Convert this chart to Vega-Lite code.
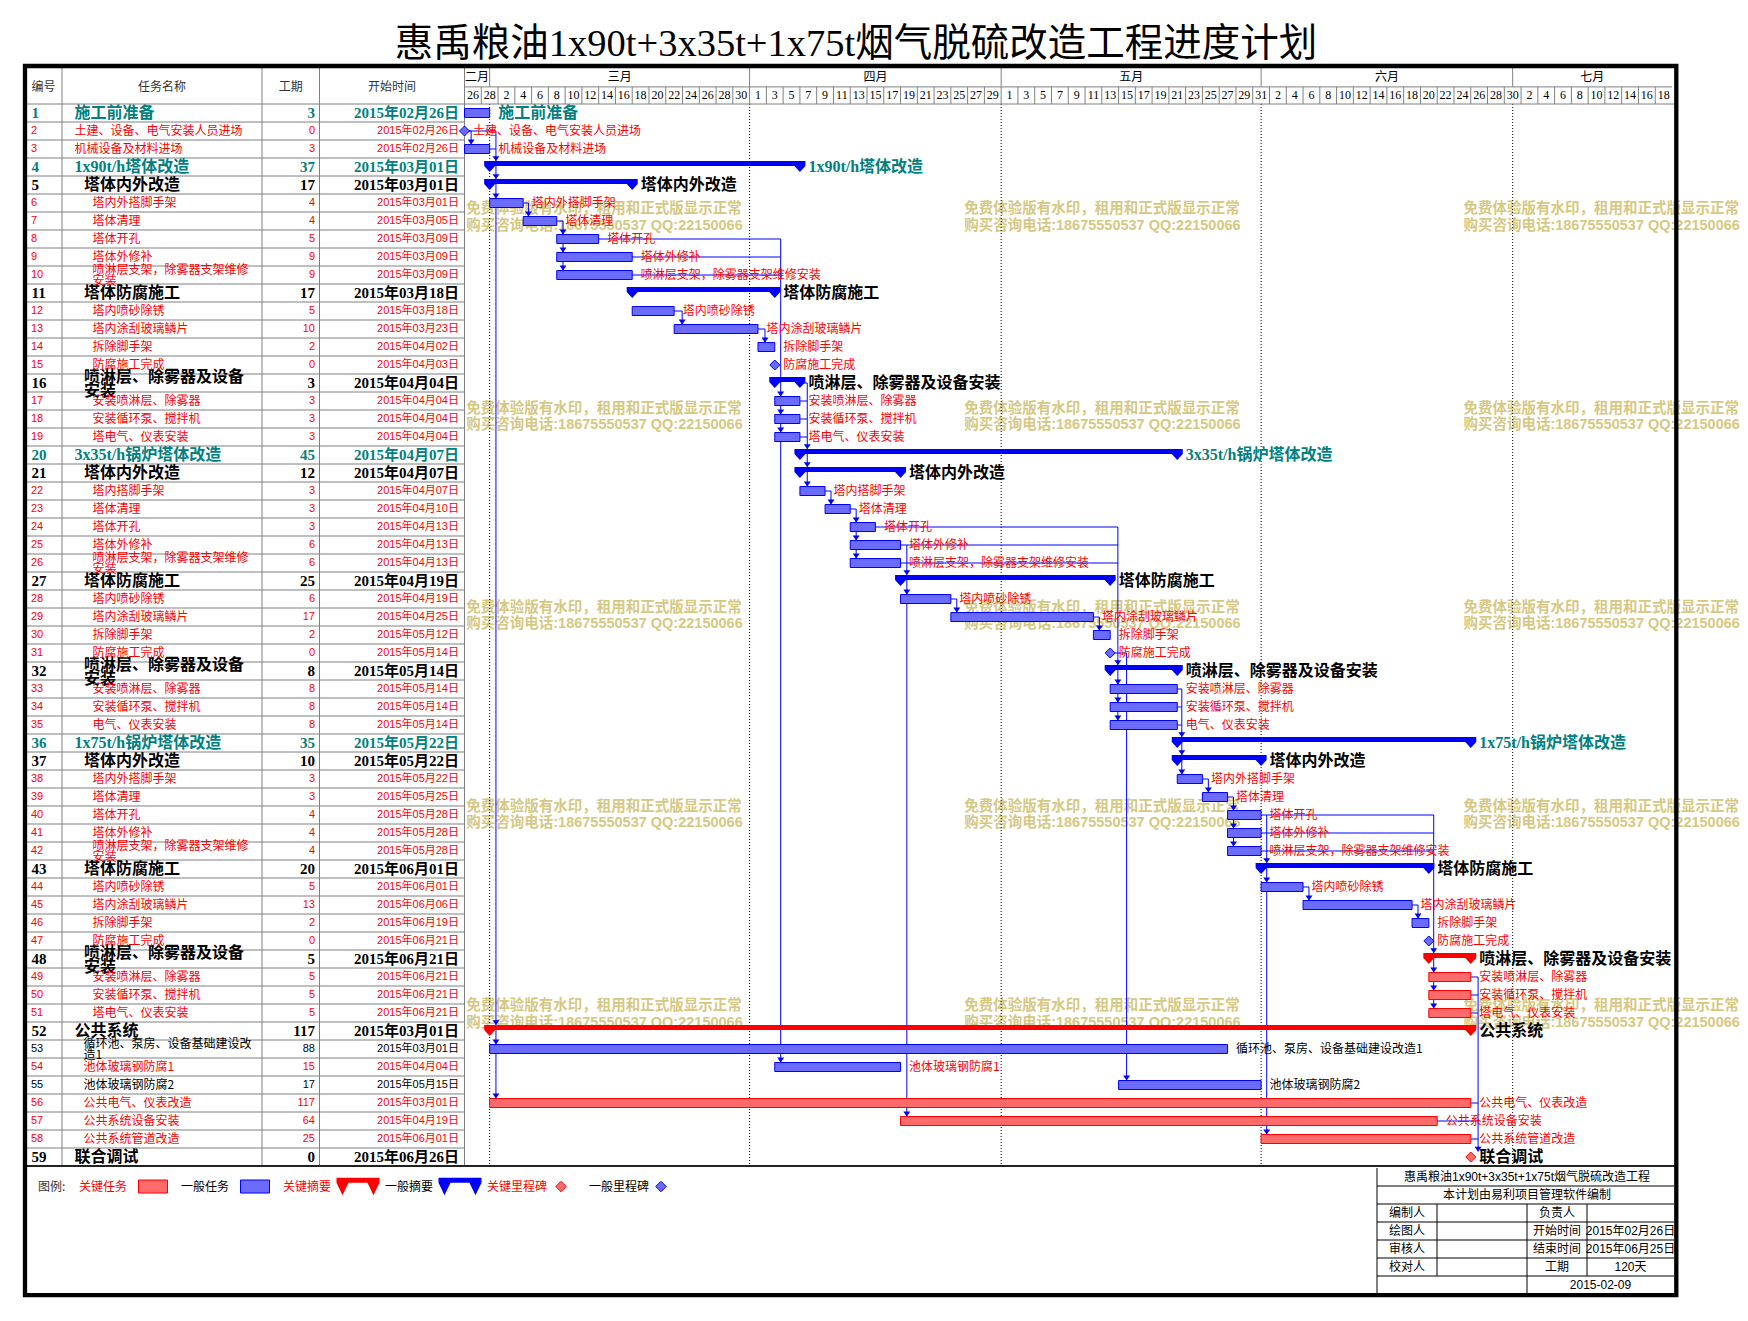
{
"$schema": "https://vega.github.io/schema/vega-lite/v6.json",
"width": 1748, "height": 1256,
"autosize": {"type": "none"},
"padding": {"top": 65, "left": 0, "right": 0, "bottom": 0},
"background": "white",
"title": {"text": "惠禹粮油1x90t+3x35t+1x75t烟气脱硫改造工程进度计划", "anchor": "middle", "frame": "group", "font": "Liberation Serif, Noto Sans CJK SC", "fontSize": 38.5, "fontWeight": "normal", "color": "#000000", "offset": -1, "dx": -18},
"config": {"view": {"stroke": null}, "text": {"font": "Noto Sans CJK SC"}},
"datasets": {
"rows": [
{"r":1,"n":"施工前准备","tn":"施工前准备","d":3,"s":"2015-02-26","e":"2015-03-01","k":"t","c":0,"st":"T","i":1},
{"r":2,"n":"土建、设备、电气安装人员进场","tn":"土建、设备、电气安装人员进场","d":0,"s":"2015-02-26","e":"2015-02-26","k":"m","c":0,"st":"R","i":1},
{"r":3,"n":"机械设备及材料进场","tn":"机械设备及材料进场","d":3,"s":"2015-02-26","e":"2015-03-01","k":"t","c":0,"st":"R","i":1},
{"r":4,"n":"1x90t/h塔体改造","tn":"1x90t/h塔体改造","d":37,"s":"2015-03-01","e":"2015-04-07","k":"s","c":0,"st":"T","i":1},
{"r":5,"n":"塔体内外改造","tn":"塔体内外改造","d":17,"s":"2015-03-01","e":"2015-03-18","k":"s","c":0,"st":"K","i":2},
{"r":6,"n":"塔内外搭脚手架","tn":"塔内外搭脚手架","d":4,"s":"2015-03-01","e":"2015-03-05","k":"t","c":0,"st":"R","i":3},
{"r":7,"n":"塔体清理","tn":"塔体清理","d":4,"s":"2015-03-05","e":"2015-03-09","k":"t","c":0,"st":"R","i":3},
{"r":8,"n":"塔体开孔","tn":"塔体开孔","d":5,"s":"2015-03-09","e":"2015-03-14","k":"t","c":0,"st":"R","i":3},
{"r":9,"n":"塔体外修补","tn":"塔体外修补","d":9,"s":"2015-03-09","e":"2015-03-18","k":"t","c":0,"st":"R","i":3},
{"r":10,"n":"喷淋层支架，除雾器支架维修安装","tn":"喷淋层支架，除雾器支架维修\n安装","d":9,"s":"2015-03-09","e":"2015-03-18","k":"t","c":0,"st":"R","i":3},
{"r":11,"n":"塔体防腐施工","tn":"塔体防腐施工","d":17,"s":"2015-03-18","e":"2015-04-04","k":"s","c":0,"st":"K","i":2},
{"r":12,"n":"塔内喷砂除锈","tn":"塔内喷砂除锈","d":5,"s":"2015-03-18","e":"2015-03-23","k":"t","c":0,"st":"R","i":3},
{"r":13,"n":"塔内涂刮玻璃鳞片","tn":"塔内涂刮玻璃鳞片","d":10,"s":"2015-03-23","e":"2015-04-02","k":"t","c":0,"st":"R","i":3},
{"r":14,"n":"拆除脚手架","tn":"拆除脚手架","d":2,"s":"2015-04-02","e":"2015-04-04","k":"t","c":0,"st":"R","i":3},
{"r":15,"n":"防腐施工完成","tn":"防腐施工完成","d":0,"s":"2015-04-03T23:59:00Z","e":"2015-04-03T23:59:00Z","k":"m","c":0,"st":"R","i":3},
{"r":16,"n":"喷淋层、除雾器及设备安装","tn":"喷淋层、除雾器及设备\n安装","d":3,"s":"2015-04-04","e":"2015-04-07","k":"s","c":0,"st":"K","i":2},
{"r":17,"n":"安装喷淋层、除雾器","tn":"安装喷淋层、除雾器","d":3,"s":"2015-04-04","e":"2015-04-07","k":"t","c":0,"st":"R","i":3},
{"r":18,"n":"安装循环泵、搅拌机","tn":"安装循环泵、搅拌机","d":3,"s":"2015-04-04","e":"2015-04-07","k":"t","c":0,"st":"R","i":3},
{"r":19,"n":"塔电气、仪表安装","tn":"塔电气、仪表安装","d":3,"s":"2015-04-04","e":"2015-04-07","k":"t","c":0,"st":"R","i":3},
{"r":20,"n":"3x35t/h锅炉塔体改造","tn":"3x35t/h锅炉塔体改造","d":45,"s":"2015-04-07","e":"2015-05-22","k":"s","c":0,"st":"T","i":1},
{"r":21,"n":"塔体内外改造","tn":"塔体内外改造","d":12,"s":"2015-04-07","e":"2015-04-19","k":"s","c":0,"st":"K","i":2},
{"r":22,"n":"塔内搭脚手架","tn":"塔内搭脚手架","d":3,"s":"2015-04-07","e":"2015-04-10","k":"t","c":0,"st":"R","i":3},
{"r":23,"n":"塔体清理","tn":"塔体清理","d":3,"s":"2015-04-10","e":"2015-04-13","k":"t","c":0,"st":"R","i":3},
{"r":24,"n":"塔体开孔","tn":"塔体开孔","d":3,"s":"2015-04-13","e":"2015-04-16","k":"t","c":0,"st":"R","i":3},
{"r":25,"n":"塔体外修补","tn":"塔体外修补","d":6,"s":"2015-04-13","e":"2015-04-19","k":"t","c":0,"st":"R","i":3},
{"r":26,"n":"喷淋层支架，除雾器支架维修安装","tn":"喷淋层支架，除雾器支架维修\n安装","d":6,"s":"2015-04-13","e":"2015-04-19","k":"t","c":0,"st":"R","i":3},
{"r":27,"n":"塔体防腐施工","tn":"塔体防腐施工","d":25,"s":"2015-04-19","e":"2015-05-14","k":"s","c":0,"st":"K","i":2},
{"r":28,"n":"塔内喷砂除锈","tn":"塔内喷砂除锈","d":6,"s":"2015-04-19","e":"2015-04-25","k":"t","c":0,"st":"R","i":3},
{"r":29,"n":"塔内涂刮玻璃鳞片","tn":"塔内涂刮玻璃鳞片","d":17,"s":"2015-04-25","e":"2015-05-12","k":"t","c":0,"st":"R","i":3},
{"r":30,"n":"拆除脚手架","tn":"拆除脚手架","d":2,"s":"2015-05-12","e":"2015-05-14","k":"t","c":0,"st":"R","i":3},
{"r":31,"n":"防腐施工完成","tn":"防腐施工完成","d":0,"s":"2015-05-14","e":"2015-05-14","k":"m","c":0,"st":"R","i":3},
{"r":32,"n":"喷淋层、除雾器及设备安装","tn":"喷淋层、除雾器及设备\n安装","d":8,"s":"2015-05-14","e":"2015-05-22","k":"s","c":0,"st":"K","i":2},
{"r":33,"n":"安装喷淋层、除雾器","tn":"安装喷淋层、除雾器","d":8,"s":"2015-05-14","e":"2015-05-22","k":"t","c":0,"st":"R","i":3},
{"r":34,"n":"安装循环泵、搅拌机","tn":"安装循环泵、搅拌机","d":8,"s":"2015-05-14","e":"2015-05-22","k":"t","c":0,"st":"R","i":3},
{"r":35,"n":"电气、仪表安装","tn":"电气、仪表安装","d":8,"s":"2015-05-14","e":"2015-05-22","k":"t","c":0,"st":"R","i":3},
{"r":36,"n":"1x75t/h锅炉塔体改造","tn":"1x75t/h锅炉塔体改造","d":35,"s":"2015-05-22","e":"2015-06-26","k":"s","c":0,"st":"T","i":1},
{"r":37,"n":"塔体内外改造","tn":"塔体内外改造","d":10,"s":"2015-05-22","e":"2015-06-01","k":"s","c":0,"st":"K","i":2},
{"r":38,"n":"塔内外搭脚手架","tn":"塔内外搭脚手架","d":3,"s":"2015-05-22","e":"2015-05-25","k":"t","c":0,"st":"R","i":3},
{"r":39,"n":"塔体清理","tn":"塔体清理","d":3,"s":"2015-05-25","e":"2015-05-28","k":"t","c":0,"st":"R","i":3},
{"r":40,"n":"塔体开孔","tn":"塔体开孔","d":4,"s":"2015-05-28","e":"2015-06-01","k":"t","c":0,"st":"R","i":3},
{"r":41,"n":"塔体外修补","tn":"塔体外修补","d":4,"s":"2015-05-28","e":"2015-06-01","k":"t","c":0,"st":"R","i":3},
{"r":42,"n":"喷淋层支架，除雾器支架维修安装","tn":"喷淋层支架，除雾器支架维修\n安装","d":4,"s":"2015-05-28","e":"2015-06-01","k":"t","c":0,"st":"R","i":3},
{"r":43,"n":"塔体防腐施工","tn":"塔体防腐施工","d":20,"s":"2015-06-01","e":"2015-06-21","k":"s","c":0,"st":"K","i":2},
{"r":44,"n":"塔内喷砂除锈","tn":"塔内喷砂除锈","d":5,"s":"2015-06-01","e":"2015-06-06","k":"t","c":0,"st":"R","i":3},
{"r":45,"n":"塔内涂刮玻璃鳞片","tn":"塔内涂刮玻璃鳞片","d":13,"s":"2015-06-06","e":"2015-06-19","k":"t","c":0,"st":"R","i":3},
{"r":46,"n":"拆除脚手架","tn":"拆除脚手架","d":2,"s":"2015-06-19","e":"2015-06-21","k":"t","c":0,"st":"R","i":3},
{"r":47,"n":"防腐施工完成","tn":"防腐施工完成","d":0,"s":"2015-06-21","e":"2015-06-21","k":"m","c":0,"st":"R","i":3},
{"r":48,"n":"喷淋层、除雾器及设备安装","tn":"喷淋层、除雾器及设备\n安装","d":5,"s":"2015-06-21","e":"2015-06-26","k":"s","c":1,"st":"K","i":2},
{"r":49,"n":"安装喷淋层、除雾器","tn":"安装喷淋层、除雾器","d":5,"s":"2015-06-21","e":"2015-06-26","k":"t","c":1,"st":"R","i":3},
{"r":50,"n":"安装循环泵、搅拌机","tn":"安装循环泵、搅拌机","d":5,"s":"2015-06-21","e":"2015-06-26","k":"t","c":1,"st":"R","i":3},
{"r":51,"n":"塔电气、仪表安装","tn":"塔电气、仪表安装","d":5,"s":"2015-06-21","e":"2015-06-26","k":"t","c":1,"st":"R","i":3},
{"r":52,"n":"公共系统","tn":"公共系统","d":117,"s":"2015-03-01","e":"2015-06-26","k":"s","c":1,"st":"K","i":1},
{"r":53,"n":"循环池、泵房、设备基础建设改造1","tn":"循环池、泵房、设备基础建设改\n造1","d":88,"s":"2015-03-01","e":"2015-05-28","k":"t","c":0,"st":"S","i":2},
{"r":54,"n":"池体玻璃钢防腐1","tn":"池体玻璃钢防腐1","d":15,"s":"2015-04-04","e":"2015-04-19","k":"t","c":0,"st":"R","i":2},
{"r":55,"n":"池体玻璃钢防腐2","tn":"池体玻璃钢防腐2","d":17,"s":"2015-05-15","e":"2015-06-01","k":"t","c":0,"st":"S","i":2},
{"r":56,"n":"公共电气、仪表改造","tn":"公共电气、仪表改造","d":117,"s":"2015-03-01","e":"2015-06-26","k":"t","c":1,"st":"R","i":2},
{"r":57,"n":"公共系统设备安装","tn":"公共系统设备安装","d":64,"s":"2015-04-19","e":"2015-06-22","k":"t","c":1,"st":"R","i":2},
{"r":58,"n":"公共系统管道改造","tn":"公共系统管道改造","d":25,"s":"2015-06-01","e":"2015-06-26","k":"t","c":1,"st":"R","i":2},
{"r":59,"n":"联合调试","tn":"联合调试","d":0,"s":"2015-06-26","e":"2015-06-26","k":"m","c":1,"st":"K","i":1}
],
"days": [
{"t":"2015-02-26","d":"26"},{"t":"2015-02-28","d":"28"},{"t":"2015-03-02","d":"2"},{"t":"2015-03-04","d":"4"},{"t":"2015-03-06","d":"6"},{"t":"2015-03-08","d":"8"},{"t":"2015-03-10","d":"10"},{"t":"2015-03-12","d":"12"},{"t":"2015-03-14","d":"14"},{"t":"2015-03-16","d":"16"},{"t":"2015-03-18","d":"18"},{"t":"2015-03-20","d":"20"},{"t":"2015-03-22","d":"22"},{"t":"2015-03-24","d":"24"},{"t":"2015-03-26","d":"26"},{"t":"2015-03-28","d":"28"},{"t":"2015-03-30","d":"30"},
{"t":"2015-04-01","d":"1"},{"t":"2015-04-03","d":"3"},{"t":"2015-04-05","d":"5"},{"t":"2015-04-07","d":"7"},{"t":"2015-04-09","d":"9"},{"t":"2015-04-11","d":"11"},{"t":"2015-04-13","d":"13"},{"t":"2015-04-15","d":"15"},{"t":"2015-04-17","d":"17"},{"t":"2015-04-19","d":"19"},{"t":"2015-04-21","d":"21"},{"t":"2015-04-23","d":"23"},{"t":"2015-04-25","d":"25"},{"t":"2015-04-27","d":"27"},{"t":"2015-04-29","d":"29"},
{"t":"2015-05-01","d":"1"},{"t":"2015-05-03","d":"3"},{"t":"2015-05-05","d":"5"},{"t":"2015-05-07","d":"7"},{"t":"2015-05-09","d":"9"},{"t":"2015-05-11","d":"11"},{"t":"2015-05-13","d":"13"},{"t":"2015-05-15","d":"15"},{"t":"2015-05-17","d":"17"},{"t":"2015-05-19","d":"19"},{"t":"2015-05-21","d":"21"},{"t":"2015-05-23","d":"23"},{"t":"2015-05-25","d":"25"},{"t":"2015-05-27","d":"27"},{"t":"2015-05-29","d":"29"},{"t":"2015-05-31","d":"31"},
{"t":"2015-06-02","d":"2"},{"t":"2015-06-04","d":"4"},{"t":"2015-06-06","d":"6"},{"t":"2015-06-08","d":"8"},{"t":"2015-06-10","d":"10"},{"t":"2015-06-12","d":"12"},{"t":"2015-06-14","d":"14"},{"t":"2015-06-16","d":"16"},{"t":"2015-06-18","d":"18"},{"t":"2015-06-20","d":"20"},{"t":"2015-06-22","d":"22"},{"t":"2015-06-24","d":"24"},{"t":"2015-06-26","d":"26"},{"t":"2015-06-28","d":"28"},{"t":"2015-06-30","d":"30"},
{"t":"2015-07-02","d":"2"},{"t":"2015-07-04","d":"4"},{"t":"2015-07-06","d":"6"},{"t":"2015-07-08","d":"8"},{"t":"2015-07-10","d":"10"},{"t":"2015-07-12","d":"12"},{"t":"2015-07-14","d":"14"},{"t":"2015-07-16","d":"16"},{"t":"2015-07-18","d":"18"}
],
"months": [
{"m":"二月","s":"2015-02-26","mid":"2015-02-27T12:00:00Z"},
{"m":"三月","s":"2015-03-01","mid":"2015-03-16T12:00:00Z"},
{"m":"四月","s":"2015-04-01","mid":"2015-04-16T00:00:00Z"},
{"m":"五月","s":"2015-05-01","mid":"2015-05-16T12:00:00Z"},
{"m":"六月","s":"2015-06-01","mid":"2015-06-16T00:00:00Z"},
{"m":"七月","s":"2015-07-01","mid":"2015-07-10T12:00:00Z"}
],
"links": [
{"id":"A","k":1,"t":"2015-02-26T00:00:00Z","r":2},{"id":"A","k":2,"t":"2015-02-26T19:00:00Z","r":2},{"id":"A","k":3,"t":"2015-02-26T19:00:00Z","r":2.75},
{"id":"B","k":1,"t":"2015-02-26T00:00:00Z","r":2},{"id":"B","k":2,"t":"2015-03-01T18:00:00Z","r":2},{"id":"B","k":3,"t":"2015-03-01T18:00:00Z","r":55.75},
{"id":"B2","k":1,"t":"2015-03-01T00:00:00Z","r":3},{"id":"B2","k":2,"t":"2015-03-01T18:00:00Z","r":3},
{"id":"C","k":1,"t":"2015-03-05T00:00:00Z","r":6},{"id":"C","k":2,"t":"2015-03-05T15:00:00Z","r":6},{"id":"C","k":3,"t":"2015-03-05T15:00:00Z","r":6.75},
{"id":"D","k":1,"t":"2015-03-09T00:00:00Z","r":7},{"id":"D","k":2,"t":"2015-03-09T18:00:00Z","r":7},{"id":"D","k":3,"t":"2015-03-09T18:00:00Z","r":9.75},
{"id":"E","k":1,"t":"2015-03-14T00:00:00Z","r":8},{"id":"E","k":2,"t":"2015-04-04T17:00:00Z","r":8},{"id":"E","k":3,"t":"2015-04-04T17:00:00Z","r":53.75},
{"id":"E2","k":1,"t":"2015-03-18T00:00:00Z","r":9},{"id":"E2","k":2,"t":"2015-04-04T17:00:00Z","r":9},
{"id":"E3","k":1,"t":"2015-03-18T00:00:00Z","r":10},{"id":"E3","k":2,"t":"2015-04-04T17:00:00Z","r":10},
{"id":"F","k":1,"t":"2015-03-23T00:00:00Z","r":12},{"id":"F","k":2,"t":"2015-03-23T23:00:00Z","r":12},{"id":"F","k":3,"t":"2015-03-23T23:00:00Z","r":12.75},
{"id":"G","k":1,"t":"2015-04-02T00:00:00Z","r":13},{"id":"G","k":2,"t":"2015-04-02T20:00:00Z","r":13},{"id":"G","k":3,"t":"2015-04-02T20:00:00Z","r":13.75},
{"id":"I","k":1,"t":"2015-04-07T00:00:00Z","r":16},{"id":"I","k":2,"t":"2015-04-07T21:00:00Z","r":16},{"id":"I","k":3,"t":"2015-04-07T21:00:00Z","r":21.75},
{"id":"I2","k":1,"t":"2015-04-07T00:00:00Z","r":17},{"id":"I2","k":2,"t":"2015-04-07T21:00:00Z","r":17},
{"id":"I3","k":1,"t":"2015-04-07T00:00:00Z","r":18},{"id":"I3","k":2,"t":"2015-04-07T21:00:00Z","r":18},
{"id":"I4","k":1,"t":"2015-04-07T00:00:00Z","r":19},{"id":"I4","k":2,"t":"2015-04-07T21:00:00Z","r":19},
{"id":"J","k":1,"t":"2015-04-10T00:00:00Z","r":22},{"id":"J","k":2,"t":"2015-04-10T17:00:00Z","r":22},{"id":"J","k":3,"t":"2015-04-10T17:00:00Z","r":22.75},
{"id":"K","k":1,"t":"2015-04-13T00:00:00Z","r":23},{"id":"K","k":2,"t":"2015-04-13T17:00:00Z","r":23},{"id":"K","k":3,"t":"2015-04-13T17:00:00Z","r":25.75},
{"id":"L","k":1,"t":"2015-04-19T00:00:00Z","r":25},{"id":"L","k":2,"t":"2015-04-19T18:00:00Z","r":25},{"id":"L","k":3,"t":"2015-04-19T18:00:00Z","r":56.75},
{"id":"L2","k":1,"t":"2015-04-19T00:00:00Z","r":26},{"id":"L2","k":2,"t":"2015-04-19T18:00:00Z","r":26},
{"id":"M","k":1,"t":"2015-04-16T00:00:00Z","r":24},{"id":"M","k":2,"t":"2015-05-14T22:00:00Z","r":24},{"id":"M","k":3,"t":"2015-05-14T22:00:00Z","r":34.75},
{"id":"M2","k":1,"t":"2015-04-19T18:00:00Z","r":25},{"id":"M2","k":2,"t":"2015-05-14T22:00:00Z","r":25},
{"id":"M3","k":1,"t":"2015-04-19T18:00:00Z","r":26},{"id":"M3","k":2,"t":"2015-05-14T22:00:00Z","r":26},
{"id":"N","k":1,"t":"2015-04-25T00:00:00Z","r":28},{"id":"N","k":2,"t":"2015-04-25T17:00:00Z","r":28},{"id":"N","k":3,"t":"2015-04-25T17:00:00Z","r":28.75},
{"id":"O","k":1,"t":"2015-05-12T00:00:00Z","r":29},{"id":"O","k":2,"t":"2015-05-12T17:00:00Z","r":29},{"id":"O","k":3,"t":"2015-05-12T17:00:00Z","r":29.75},
{"id":"Q","k":1,"t":"2015-05-14T00:00:00Z","r":31},{"id":"Q","k":2,"t":"2015-05-15T23:00:00Z","r":31},{"id":"Q","k":3,"t":"2015-05-15T23:00:00Z","r":54.75},
{"id":"R","k":1,"t":"2015-05-22T00:00:00Z","r":33},{"id":"R","k":2,"t":"2015-05-22T13:00:00Z","r":33},{"id":"R","k":3,"t":"2015-05-22T13:00:00Z","r":37.75},
{"id":"R2","k":1,"t":"2015-05-22T00:00:00Z","r":34},{"id":"R2","k":2,"t":"2015-05-22T13:00:00Z","r":34},
{"id":"R3","k":1,"t":"2015-05-22T00:00:00Z","r":35},{"id":"R3","k":2,"t":"2015-05-22T13:00:00Z","r":35},
{"id":"S","k":1,"t":"2015-05-25T00:00:00Z","r":38},{"id":"S","k":2,"t":"2015-05-25T17:00:00Z","r":38},{"id":"S","k":3,"t":"2015-05-25T17:00:00Z","r":38.75},
{"id":"T","k":1,"t":"2015-05-28T00:00:00Z","r":39},{"id":"T","k":2,"t":"2015-05-28T17:00:00Z","r":39},{"id":"T","k":3,"t":"2015-05-28T17:00:00Z","r":41.75},
{"id":"U","k":1,"t":"2015-06-01T00:00:00Z","r":40},{"id":"U","k":2,"t":"2015-06-01T16:00:00Z","r":40},{"id":"U","k":3,"t":"2015-06-01T16:00:00Z","r":57.75},
{"id":"U2","k":1,"t":"2015-06-01T00:00:00Z","r":41},{"id":"U2","k":2,"t":"2015-06-01T16:00:00Z","r":41},
{"id":"U3","k":1,"t":"2015-06-01T00:00:00Z","r":42},{"id":"U3","k":2,"t":"2015-06-01T16:00:00Z","r":42},
{"id":"V","k":1,"t":"2015-06-01T16:00:00Z","r":40},{"id":"V","k":2,"t":"2015-06-21T14:00:00Z","r":40},{"id":"V","k":3,"t":"2015-06-21T14:00:00Z","r":50.75},
{"id":"V2","k":1,"t":"2015-06-01T16:00:00Z","r":41},{"id":"V2","k":2,"t":"2015-06-21T14:00:00Z","r":41},
{"id":"V3","k":1,"t":"2015-06-01T16:00:00Z","r":42},{"id":"V3","k":2,"t":"2015-06-21T14:00:00Z","r":42},
{"id":"W","k":1,"t":"2015-06-06T00:00:00Z","r":44},{"id":"W","k":2,"t":"2015-06-06T17:00:00Z","r":44},{"id":"W","k":3,"t":"2015-06-06T17:00:00Z","r":44.75},
{"id":"X","k":1,"t":"2015-06-19T00:00:00Z","r":45},{"id":"X","k":2,"t":"2015-06-19T17:00:00Z","r":45},{"id":"X","k":3,"t":"2015-06-19T17:00:00Z","r":45.75},
{"id":"Z","k":1,"t":"2015-06-26T00:00:00Z","r":49},{"id":"Z","k":2,"t":"2015-06-26T21:00:00Z","r":49},{"id":"Z","k":3,"t":"2015-06-26T21:00:00Z","r":58.7},
{"id":"Z2","k":1,"t":"2015-06-26T00:00:00Z","r":50},{"id":"Z2","k":2,"t":"2015-06-26T21:00:00Z","r":50},
{"id":"Z3","k":1,"t":"2015-06-26T00:00:00Z","r":51},{"id":"Z3","k":2,"t":"2015-06-26T21:00:00Z","r":51},
{"id":"Z4","k":1,"t":"2015-06-26T00:00:00Z","r":56},{"id":"Z4","k":2,"t":"2015-06-26T21:00:00Z","r":56},
{"id":"Z5","k":1,"t":"2015-06-22T00:00:00Z","r":57},{"id":"Z5","k":2,"t":"2015-06-26T21:00:00Z","r":57},
{"id":"Z6","k":1,"t":"2015-06-26T00:00:00Z","r":58},{"id":"Z6","k":2,"t":"2015-06-26T21:00:00Z","r":58}
],
"arrows": [
{"t":"2015-02-26T19:00:00Z","r":2.75},
{"t":"2015-03-01T18:00:00Z","r":3.67},{"t":"2015-03-01T18:00:00Z","r":4.67},{"t":"2015-03-01T18:00:00Z","r":5.75},{"t":"2015-03-01T18:00:00Z","r":51.67},{"t":"2015-03-01T18:00:00Z","r":52.75},{"t":"2015-03-01T18:00:00Z","r":55.75},
{"t":"2015-03-05T15:00:00Z","r":6.75},
{"t":"2015-03-09T18:00:00Z","r":7.75},{"t":"2015-03-09T18:00:00Z","r":8.75},{"t":"2015-03-09T18:00:00Z","r":9.75},
{"t":"2015-04-04T17:00:00Z","r":16.75},{"t":"2015-04-04T17:00:00Z","r":17.75},{"t":"2015-04-04T17:00:00Z","r":18.75},{"t":"2015-04-04T17:00:00Z","r":53.75},
{"t":"2015-03-23T23:00:00Z","r":12.75},
{"t":"2015-04-02T20:00:00Z","r":13.75},
{"t":"2015-04-07T21:00:00Z","r":19.67},{"t":"2015-04-07T21:00:00Z","r":20.67},{"t":"2015-04-07T21:00:00Z","r":21.75},
{"t":"2015-04-10T17:00:00Z","r":22.75},
{"t":"2015-04-13T17:00:00Z","r":23.75},{"t":"2015-04-13T17:00:00Z","r":24.75},{"t":"2015-04-13T17:00:00Z","r":25.75},
{"t":"2015-04-19T18:00:00Z","r":26.67},{"t":"2015-04-19T18:00:00Z","r":27.75},{"t":"2015-04-19T18:00:00Z","r":56.75},
{"t":"2015-05-14T22:00:00Z","r":31.67},{"t":"2015-05-14T22:00:00Z","r":32.75},{"t":"2015-05-14T22:00:00Z","r":33.75},{"t":"2015-05-14T22:00:00Z","r":34.75},
{"t":"2015-04-25T17:00:00Z","r":28.75},
{"t":"2015-05-12T17:00:00Z","r":29.75},
{"t":"2015-05-15T23:00:00Z","r":54.75},
{"t":"2015-05-22T13:00:00Z","r":35.67},{"t":"2015-05-22T13:00:00Z","r":36.67},{"t":"2015-05-22T13:00:00Z","r":37.75},
{"t":"2015-05-25T17:00:00Z","r":38.75},
{"t":"2015-05-28T17:00:00Z","r":39.75},{"t":"2015-05-28T17:00:00Z","r":40.75},{"t":"2015-05-28T17:00:00Z","r":41.75},
{"t":"2015-06-01T16:00:00Z","r":42.67},{"t":"2015-06-01T16:00:00Z","r":43.75},{"t":"2015-06-01T16:00:00Z","r":57.75},
{"t":"2015-06-21T14:00:00Z","r":47.67},{"t":"2015-06-21T14:00:00Z","r":48.75},{"t":"2015-06-21T14:00:00Z","r":49.75},{"t":"2015-06-21T14:00:00Z","r":50.75},
{"t":"2015-06-06T17:00:00Z","r":44.75},
{"t":"2015-06-19T17:00:00Z","r":45.75},
{"t":"2015-06-26T21:00:00Z","r":58.7}
],
"wm": [
{"t":"2015-02-26T05:00:00Z","r":6.35,"s":"免费体验版有水印，租用和正式版显示正常"},{"t":"2015-02-26T05:00:00Z","r":7.26,"s":"购买咨询电话:18675550537 QQ:22150066"},
{"t":"2015-04-26T14:00:00Z","r":6.35,"s":"免费体验版有水印，租用和正式版显示正常"},{"t":"2015-04-26T14:00:00Z","r":7.26,"s":"购买咨询电话:18675550537 QQ:22150066"},
{"t":"2015-06-25T03:00:00Z","r":6.35,"s":"免费体验版有水印，租用和正式版显示正常"},{"t":"2015-06-25T03:00:00Z","r":7.26,"s":"购买咨询电话:18675550537 QQ:22150066"},
{"t":"2015-02-26T05:00:00Z","r":17.42,"s":"免费体验版有水印，租用和正式版显示正常"},{"t":"2015-02-26T05:00:00Z","r":18.33,"s":"购买咨询电话:18675550537 QQ:22150066"},
{"t":"2015-04-26T14:00:00Z","r":17.42,"s":"免费体验版有水印，租用和正式版显示正常"},{"t":"2015-04-26T14:00:00Z","r":18.33,"s":"购买咨询电话:18675550537 QQ:22150066"},
{"t":"2015-06-25T03:00:00Z","r":17.42,"s":"免费体验版有水印，租用和正式版显示正常"},{"t":"2015-06-25T03:00:00Z","r":18.33,"s":"购买咨询电话:18675550537 QQ:22150066"},
{"t":"2015-02-26T05:00:00Z","r":28.49,"s":"免费体验版有水印，租用和正式版显示正常"},{"t":"2015-02-26T05:00:00Z","r":29.4,"s":"购买咨询电话:18675550537 QQ:22150066"},
{"t":"2015-04-26T14:00:00Z","r":28.49,"s":"免费体验版有水印，租用和正式版显示正常"},{"t":"2015-04-26T14:00:00Z","r":29.4,"s":"购买咨询电话:18675550537 QQ:22150066"},
{"t":"2015-06-25T03:00:00Z","r":28.49,"s":"免费体验版有水印，租用和正式版显示正常"},{"t":"2015-06-25T03:00:00Z","r":29.4,"s":"购买咨询电话:18675550537 QQ:22150066"},
{"t":"2015-02-26T05:00:00Z","r":39.56,"s":"免费体验版有水印，租用和正式版显示正常"},{"t":"2015-02-26T05:00:00Z","r":40.47,"s":"购买咨询电话:18675550537 QQ:22150066"},
{"t":"2015-04-26T14:00:00Z","r":39.56,"s":"免费体验版有水印，租用和正式版显示正常"},{"t":"2015-04-26T14:00:00Z","r":40.47,"s":"购买咨询电话:18675550537 QQ:22150066"},
{"t":"2015-06-25T03:00:00Z","r":39.56,"s":"免费体验版有水印，租用和正式版显示正常"},{"t":"2015-06-25T03:00:00Z","r":40.47,"s":"购买咨询电话:18675550537 QQ:22150066"},
{"t":"2015-02-26T05:00:00Z","r":50.63,"s":"免费体验版有水印，租用和正式版显示正常"},{"t":"2015-02-26T05:00:00Z","r":51.54,"s":"购买咨询电话:18675550537 QQ:22150066"},
{"t":"2015-04-26T14:00:00Z","r":50.63,"s":"免费体验版有水印，租用和正式版显示正常"},{"t":"2015-04-26T14:00:00Z","r":51.54,"s":"购买咨询电话:18675550537 QQ:22150066"},
{"t":"2015-06-25T03:00:00Z","r":50.63,"s":"免费体验版有水印，租用和正式版显示正常"},{"t":"2015-06-25T03:00:00Z","r":51.54,"s":"购买咨询电话:18675550537 QQ:22150066"}
],
"legend": [
{"e":"关键任务","cc":"crit"},{"e":"一般任务","cc":"norm"},{"e":"关键摘要","cc":"crit"},{"e":"一般摘要","cc":"norm"},{"e":"关键里程碑","cc":"crit"},{"e":"一般里程碑","cc":"norm"}
],
"info": [
{"x":2,"r":60,"t":"惠禹粮油1x90t+3x35t+1x75t烟气脱硫改造工程"},
{"x":2,"r":61,"t":"本计划由易利项目管理软件编制"},
{"x":0.5,"r":62,"t":"编制人"},{"x":2.5,"r":62,"t":"负责人"},
{"x":0.5,"r":63,"t":"绘图人"},{"x":2.5,"r":63,"t":"开始时间"},{"x":3.5,"r":63,"t":"2015年02月26日"},
{"x":0.5,"r":64,"t":"审核人"},{"x":2.5,"r":64,"t":"结束时间"},{"x":3.5,"r":64,"t":"2015年06月25日"},
{"x":0.5,"r":65,"t":"校对人"},{"x":2.5,"r":65,"t":"工期"},{"x":3.5,"r":65,"t":"120天"},
{"x":3.155,"r":66,"t":"2015-02-09"}
],
"infol": [
{"x":0,"x2":4,"r":60.5,"r2":60.5},{"x":0,"x2":4,"r":61.5,"r2":61.5},{"x":0,"x2":4,"r":62.5,"r2":62.5},{"x":0,"x2":4,"r":63.5,"r2":63.5},{"x":0,"x2":4,"r":64.5,"r2":64.5},{"x":0,"x2":4,"r":65.5,"r2":65.5},{"x":0,"x2":4,"r":66.5,"r2":66.5},
{"x":0,"x2":0,"r":59.5,"r2":66.5},{"x":1,"x2":1,"r":61.5,"r2":65.5},{"x":2,"x2":2,"r":61.5,"r2":66.5},{"x":3,"x2":3,"r":61.5,"r2":65.5}
]
},
"layer": [
{"layer": [
 {"data": {"values": [{"h":"编号","c":0.5},{"h":"任务名称","c":1.5},{"h":"工期","c":2.5},{"h":"开始时间","c":3.5}]},
  "mark": {"type":"text","align":"center","baseline":"middle","font":"Noto Sans CJK SC","fontSize":12,"color":"#333333"},
  "encoding": {"x":{"field":"c","type":"quantitative","scale":{"type":"linear","domain":[0,1,2,3,4],"range":[25,62,262,319.5,464.5],"nice":false,"zero":false},"axis":null},
   "y":{"datum":-0.47,"type":"quantitative","scale":{"domain":[-1.6667,68.1111],"reverse":true,"nice":false,"zero":false},"axis":null},
   "text":{"field":"h"}}},
 {"data": {"values": [{"c":1},{"c":2},{"c":3},{"c":4}]},
  "mark": {"type":"rule","color":"#808080","strokeWidth":1},
  "encoding": {"x":{"field":"c","type":"quantitative","scale":{"type":"linear","domain":[0,1,2,3,4],"range":[25,62,262,319.5,464.5],"nice":false,"zero":false},"axis":null},
   "y":{"datum":-1.611,"type":"quantitative","scale":{"domain":[-1.6667,68.1111],"reverse":true,"nice":false,"zero":false},"axis":null},
   "y2":{"datum":59.5}}},
 {"data": {"name":"rows"},
  "mark": {"type":"rule","color":"#808080","strokeWidth":1,"yOffset":9},
  "encoding": {"x":{"datum":0,"type":"quantitative","scale":{"type":"linear","domain":[0,1,2,3,4],"range":[25,62,262,319.5,464.5],"nice":false,"zero":false},"axis":null},
   "x2":{"datum":4},
   "y":{"field":"r","type":"quantitative","scale":{"domain":[-1.6667,68.1111],"reverse":true,"nice":false,"zero":false},"axis":null}}},
 {"data": {"name":"rows"}, "transform":[{"filter":"datum.st=='T'||datum.st=='K'"}],
  "mark": {"type":"text","align":"left","baseline":"middle","dx":6.5,"font":"Liberation Serif, Noto Sans CJK SC","fontSize":15,"fontWeight":"bold"},
  "encoding": {"x":{"datum":0,"type":"quantitative","scale":{"type":"linear","domain":[0,1,2,3,4],"range":[25,62,262,319.5,464.5],"nice":false,"zero":false},"axis":null},
   "y":{"field":"r","type":"quantitative","scale":{"domain":[-1.6667,68.1111],"reverse":true,"nice":false,"zero":false},"axis":null},
   "text":{"field":"r"},
   "color":{"field":"st","type":"nominal","scale":{"domain":["T","K","R","S"],"range":["#008080","#000000","#ff0000","#000000"]},"legend":null}}},
 {"data": {"name":"rows"}, "transform":[{"filter":"datum.st=='R'||datum.st=='S'"}],
  "mark": {"type":"text","align":"left","baseline":"middle","dx":6,"font":"Liberation Sans Narrow, Liberation Sans, Noto Sans CJK SC","fontSize":11},
  "encoding": {"x":{"datum":0,"type":"quantitative","scale":{"type":"linear","domain":[0,1,2,3,4],"range":[25,62,262,319.5,464.5],"nice":false,"zero":false},"axis":null},
   "y":{"field":"r","type":"quantitative","scale":{"domain":[-1.6667,68.1111],"reverse":true,"nice":false,"zero":false},"axis":null},
   "text":{"field":"r"},
   "color":{"field":"st","type":"nominal","scale":{"domain":["T","K","R","S"],"range":["#008080","#000000","#ff0000","#000000"]},"legend":null}}},
 {"data": {"name":"rows"}, "transform":[{"filter":"(datum.st=='T'||datum.st=='K')&&datum.i==1"}],
  "mark": {"type":"text","align":"left","baseline":"middle","dx":12.5,"font":"Liberation Serif, Noto Sans CJK SC","fontSize":16,"fontWeight":"bold"},
  "encoding": {"x":{"datum":1,"type":"quantitative","scale":{"type":"linear","domain":[0,1,2,3,4],"range":[25,62,262,319.5,464.5],"nice":false,"zero":false},"axis":null},
   "y":{"field":"r","type":"quantitative","scale":{"domain":[-1.6667,68.1111],"reverse":true,"nice":false,"zero":false},"axis":null},
   "text":{"field":"tn"},
   "color":{"field":"st","type":"nominal","scale":{"domain":["T","K","R","S"],"range":["#008080","#000000","#ff0000","#000000"]},"legend":null}}},
 {"data": {"name":"rows"}, "transform":[{"filter":"(datum.st=='T'||datum.st=='K')&&datum.i==2&&indexof(datum.tn,'\\n')<0"}],
  "mark": {"type":"text","align":"left","baseline":"middle","dx":22,"font":"Liberation Serif, Noto Sans CJK SC","fontSize":16,"fontWeight":"bold"},
  "encoding": {"x":{"datum":1,"type":"quantitative","scale":{"type":"linear","domain":[0,1,2,3,4],"range":[25,62,262,319.5,464.5],"nice":false,"zero":false},"axis":null},
   "y":{"field":"r","type":"quantitative","scale":{"domain":[-1.6667,68.1111],"reverse":true,"nice":false,"zero":false},"axis":null},
   "text":{"field":"tn"},
   "color":{"field":"st","type":"nominal","scale":{"domain":["T","K","R","S"],"range":["#008080","#000000","#ff0000","#000000"]},"legend":null}}},
 {"data": {"name":"rows"}, "transform":[{"filter":"(datum.st=='T'||datum.st=='K')&&datum.i==2&&indexof(datum.tn,'\\n')>=0"}],
  "mark": {"type":"text","align":"left","baseline":"middle","dx":22,"dy":-6,"font":"Liberation Serif, Noto Sans CJK SC","fontSize":16,"fontWeight":"bold","lineBreak":"\n","lineHeight":13.5},
  "encoding": {"x":{"datum":1,"type":"quantitative","scale":{"type":"linear","domain":[0,1,2,3,4],"range":[25,62,262,319.5,464.5],"nice":false,"zero":false},"axis":null},
   "y":{"field":"r","type":"quantitative","scale":{"domain":[-1.6667,68.1111],"reverse":true,"nice":false,"zero":false},"axis":null},
   "text":{"field":"tn"},
   "color":{"field":"st","type":"nominal","scale":{"domain":["T","K","R","S"],"range":["#008080","#000000","#ff0000","#000000"]},"legend":null}}},
 {"data": {"name":"rows"}, "transform":[{"filter":"(datum.st=='R'||datum.st=='S')&&datum.i==1"}],
  "mark": {"type":"text","align":"left","baseline":"middle","dx":12.5,"font":"Noto Sans CJK SC","fontSize":12},
  "encoding": {"x":{"datum":1,"type":"quantitative","scale":{"type":"linear","domain":[0,1,2,3,4],"range":[25,62,262,319.5,464.5],"nice":false,"zero":false},"axis":null},
   "y":{"field":"r","type":"quantitative","scale":{"domain":[-1.6667,68.1111],"reverse":true,"nice":false,"zero":false},"axis":null},
   "text":{"field":"tn"},
   "color":{"field":"st","type":"nominal","scale":{"domain":["T","K","R","S"],"range":["#008080","#000000","#ff0000","#000000"]},"legend":null}}},
 {"data": {"name":"rows"}, "transform":[{"filter":"(datum.st=='R'||datum.st=='S')&&datum.i==2&&indexof(datum.tn,'\\n')<0"}],
  "mark": {"type":"text","align":"left","baseline":"middle","dx":21.5,"font":"Noto Sans CJK SC","fontSize":12},
  "encoding": {"x":{"datum":1,"type":"quantitative","scale":{"type":"linear","domain":[0,1,2,3,4],"range":[25,62,262,319.5,464.5],"nice":false,"zero":false},"axis":null},
   "y":{"field":"r","type":"quantitative","scale":{"domain":[-1.6667,68.1111],"reverse":true,"nice":false,"zero":false},"axis":null},
   "text":{"field":"tn"},
   "color":{"field":"st","type":"nominal","scale":{"domain":["T","K","R","S"],"range":["#008080","#000000","#ff0000","#000000"]},"legend":null}}},
 {"data": {"name":"rows"}, "transform":[{"filter":"(datum.st=='R'||datum.st=='S')&&datum.i==2&&indexof(datum.tn,'\\n')>=0"}],
  "mark": {"type":"text","align":"left","baseline":"middle","dx":21.5,"dy":-5,"font":"Noto Sans CJK SC","fontSize":12,"lineBreak":"\n","lineHeight":11},
  "encoding": {"x":{"datum":1,"type":"quantitative","scale":{"type":"linear","domain":[0,1,2,3,4],"range":[25,62,262,319.5,464.5],"nice":false,"zero":false},"axis":null},
   "y":{"field":"r","type":"quantitative","scale":{"domain":[-1.6667,68.1111],"reverse":true,"nice":false,"zero":false},"axis":null},
   "text":{"field":"tn"},
   "color":{"field":"st","type":"nominal","scale":{"domain":["T","K","R","S"],"range":["#008080","#000000","#ff0000","#000000"]},"legend":null}}},
 {"data": {"name":"rows"}, "transform":[{"filter":"(datum.st=='R'||datum.st=='S')&&datum.i==3&&indexof(datum.tn,'\\n')<0"}],
  "mark": {"type":"text","align":"left","baseline":"middle","dx":30.5,"font":"Noto Sans CJK SC","fontSize":12},
  "encoding": {"x":{"datum":1,"type":"quantitative","scale":{"type":"linear","domain":[0,1,2,3,4],"range":[25,62,262,319.5,464.5],"nice":false,"zero":false},"axis":null},
   "y":{"field":"r","type":"quantitative","scale":{"domain":[-1.6667,68.1111],"reverse":true,"nice":false,"zero":false},"axis":null},
   "text":{"field":"tn"},
   "color":{"field":"st","type":"nominal","scale":{"domain":["T","K","R","S"],"range":["#008080","#000000","#ff0000","#000000"]},"legend":null}}},
 {"data": {"name":"rows"}, "transform":[{"filter":"(datum.st=='R'||datum.st=='S')&&datum.i==3&&indexof(datum.tn,'\\n')>=0"}],
  "mark": {"type":"text","align":"left","baseline":"middle","dx":30.5,"dy":-5,"font":"Noto Sans CJK SC","fontSize":12,"lineBreak":"\n","lineHeight":11},
  "encoding": {"x":{"datum":1,"type":"quantitative","scale":{"type":"linear","domain":[0,1,2,3,4],"range":[25,62,262,319.5,464.5],"nice":false,"zero":false},"axis":null},
   "y":{"field":"r","type":"quantitative","scale":{"domain":[-1.6667,68.1111],"reverse":true,"nice":false,"zero":false},"axis":null},
   "text":{"field":"tn"},
   "color":{"field":"st","type":"nominal","scale":{"domain":["T","K","R","S"],"range":["#008080","#000000","#ff0000","#000000"]},"legend":null}}},
 {"data": {"name":"rows"}, "transform":[{"filter":"datum.st=='T'||datum.st=='K'"}],
  "mark": {"type":"text","align":"right","baseline":"middle","dx":-4.5,"font":"Liberation Serif, Noto Sans CJK SC","fontSize":15,"fontWeight":"bold"},
  "encoding": {"x":{"datum":3,"type":"quantitative","scale":{"type":"linear","domain":[0,1,2,3,4],"range":[25,62,262,319.5,464.5],"nice":false,"zero":false},"axis":null},
   "y":{"field":"r","type":"quantitative","scale":{"domain":[-1.6667,68.1111],"reverse":true,"nice":false,"zero":false},"axis":null},
   "text":{"field":"d"},
   "color":{"field":"st","type":"nominal","scale":{"domain":["T","K","R","S"],"range":["#008080","#000000","#ff0000","#000000"]},"legend":null}}},
 {"data": {"name":"rows"}, "transform":[{"filter":"datum.st=='R'||datum.st=='S'"}],
  "mark": {"type":"text","align":"right","baseline":"middle","dx":-4.5,"font":"Liberation Sans Narrow, Liberation Sans, Noto Sans CJK SC","fontSize":11},
  "encoding": {"x":{"datum":3,"type":"quantitative","scale":{"type":"linear","domain":[0,1,2,3,4],"range":[25,62,262,319.5,464.5],"nice":false,"zero":false},"axis":null},
   "y":{"field":"r","type":"quantitative","scale":{"domain":[-1.6667,68.1111],"reverse":true,"nice":false,"zero":false},"axis":null},
   "text":{"field":"d"},
   "color":{"field":"st","type":"nominal","scale":{"domain":["T","K","R","S"],"range":["#008080","#000000","#ff0000","#000000"]},"legend":null}}},
 {"data": {"name":"rows"}, "transform":[{"filter":"datum.st=='T'||datum.st=='K'"}],
  "mark": {"type":"text","align":"right","baseline":"middle","dx":-5.5,"font":"Liberation Serif, Noto Sans CJK SC","fontSize":15,"fontWeight":"bold"},
  "encoding": {"x":{"datum":4,"type":"quantitative","scale":{"type":"linear","domain":[0,1,2,3,4],"range":[25,62,262,319.5,464.5],"nice":false,"zero":false},"axis":null},
   "y":{"field":"r","type":"quantitative","scale":{"domain":[-1.6667,68.1111],"reverse":true,"nice":false,"zero":false},"axis":null},
   "text":{"field":"s","type":"temporal","timeUnit":"utcyearmonthdate","format":"%Y年%m月%d日"},
   "color":{"field":"st","type":"nominal","scale":{"domain":["T","K","R","S"],"range":["#008080","#000000","#ff0000","#000000"]},"legend":null}}},
 {"data": {"name":"rows"}, "transform":[{"filter":"datum.st=='R'||datum.st=='S'"}],
  "mark": {"type":"text","align":"right","baseline":"middle","dx":-5.5,"font":"Liberation Sans Narrow, Liberation Sans, Noto Sans CJK SC","fontSize":11},
  "encoding": {"x":{"datum":4,"type":"quantitative","scale":{"type":"linear","domain":[0,1,2,3,4],"range":[25,62,262,319.5,464.5],"nice":false,"zero":false},"axis":null},
   "y":{"field":"r","type":"quantitative","scale":{"domain":[-1.6667,68.1111],"reverse":true,"nice":false,"zero":false},"axis":null},
   "text":{"field":"s","type":"temporal","timeUnit":"utcyearmonthdate","format":"%Y年%m月%d日"},
   "color":{"field":"st","type":"nominal","scale":{"domain":["T","K","R","S"],"range":["#008080","#000000","#ff0000","#000000"]},"legend":null}}},
 {"data": {"values": [{"t":"图例:"}]},
  "mark": {"type":"text","align":"left","baseline":"middle","font":"Noto Sans CJK SC","fontSize":12,"color":"#333333"},
  "encoding": {"x":{"datum":0.35,"type":"quantitative","scale":{"type":"linear","domain":[0,1,2,3,4],"range":[25,62,262,319.5,464.5],"nice":false,"zero":false},"axis":null},
   "y":{"datum":60.64,"type":"quantitative","scale":{"domain":[-1.6667,68.1111],"reverse":true,"nice":false,"zero":false},"axis":null},
   "text":{"field":"t"}}}
]},
{"layer": [
 {"data": {"name":"wm"},
  "mark": {"type":"text","align":"left","baseline":"middle","font":"Liberation Sans, Noto Sans CJK SC","fontSize":14.5,"fontWeight":"bold","color":"#d6c882"},
  "encoding": {"x":{"field":"t","type":"temporal","scale":{"type":"utc","domain":[{"year":2015,"month":2,"date":26,"utc":true},{"year":2015,"month":7,"date":20,"utc":true}],"range":[464.5,1672],"nice":false},"axis":null},
   "y":{"field":"r","type":"quantitative","scale":{"domain":[-1.6667,68.1111],"reverse":true,"nice":false,"zero":false},"axis":null},
   "text":{"field":"s"}}},
 {"data": {"name":"months"},
  "mark": {"type":"text","align":"center","baseline":"middle","font":"Noto Sans CJK SC","fontSize":12,"color":"#000000"},
  "encoding": {"x":{"field":"mid","type":"temporal","scale":{"type":"utc","domain":[{"year":2015,"month":2,"date":26,"utc":true},{"year":2015,"month":7,"date":20,"utc":true}],"range":[464.5,1672],"nice":false},"axis":null},
   "y":{"datum":-1,"type":"quantitative","scale":{"domain":[-1.6667,68.1111],"reverse":true,"nice":false,"zero":false},"axis":null},
   "text":{"field":"m"}}},
 {"data": {"name":"months"},
  "mark": {"type":"rule","color":"#808080","strokeWidth":1},
  "encoding": {"x":{"field":"s","type":"temporal","scale":{"type":"utc","domain":[{"year":2015,"month":2,"date":26,"utc":true},{"year":2015,"month":7,"date":20,"utc":true}],"range":[464.5,1672],"nice":false},"axis":null},
   "y":{"datum":-1.611,"type":"quantitative","scale":{"domain":[-1.6667,68.1111],"reverse":true,"nice":false,"zero":false},"axis":null},
   "y2":{"datum":-0.45}}},
 {"data": {"name":"days"},
  "mark": {"type":"text","align":"center","baseline":"middle","dx":8.4,"font":"Liberation Serif","fontSize":12,"color":"#000000"},
  "encoding": {"x":{"field":"t","type":"temporal","scale":{"type":"utc","domain":[{"year":2015,"month":2,"date":26,"utc":true},{"year":2015,"month":7,"date":20,"utc":true}],"range":[464.5,1672],"nice":false},"axis":null},
   "y":{"datum":0.02,"type":"quantitative","scale":{"domain":[-1.6667,68.1111],"reverse":true,"nice":false,"zero":false},"axis":null},
   "text":{"field":"d"}}},
 {"data": {"name":"days"},
  "mark": {"type":"rule","color":"#808080","strokeWidth":1},
  "encoding": {"x":{"field":"t","type":"temporal","scale":{"type":"utc","domain":[{"year":2015,"month":2,"date":26,"utc":true},{"year":2015,"month":7,"date":20,"utc":true}],"range":[464.5,1672],"nice":false},"axis":null},
   "y":{"datum":-0.45,"type":"quantitative","scale":{"domain":[-1.6667,68.1111],"reverse":true,"nice":false,"zero":false},"axis":null},
   "y2":{"datum":0.5}}},
 {"data": {"values":[{}]},
  "mark": {"type":"rule","color":"#808080","strokeWidth":1},
  "encoding": {"x":{"datum":{"year":2015,"month":2,"date":26,"utc":true},"type":"temporal","scale":{"type":"utc","domain":[{"year":2015,"month":2,"date":26,"utc":true},{"year":2015,"month":7,"date":20,"utc":true}],"range":[464.5,1672],"nice":false},"axis":null},
   "x2":{"datum":{"year":2015,"month":7,"date":20,"utc":true}},
   "y":{"datum":-0.45,"type":"quantitative","scale":{"domain":[-1.6667,68.1111],"reverse":true,"nice":false,"zero":false},"axis":null}}},
 {"data": {"name":"months"}, "transform":[{"filter":"datum.m != '二月'"}],
  "mark": {"type":"rule","color":"#000000","strokeWidth":1,"strokeDash":[1,2]},
  "encoding": {"x":{"field":"s","type":"temporal","scale":{"type":"utc","domain":[{"year":2015,"month":2,"date":26,"utc":true},{"year":2015,"month":7,"date":20,"utc":true}],"range":[464.5,1672],"nice":false},"axis":null},
   "y":{"datum":0.5,"type":"quantitative","scale":{"domain":[-1.6667,68.1111],"reverse":true,"nice":false,"zero":false},"axis":null},
   "y2":{"datum":59.5}}},
 {"data": {"name":"links"},
  "mark": {"type":"line","color":"#0000ff","strokeWidth":1},
  "encoding": {"x":{"field":"t","type":"temporal","scale":{"type":"utc","domain":[{"year":2015,"month":2,"date":26,"utc":true},{"year":2015,"month":7,"date":20,"utc":true}],"range":[464.5,1672],"nice":false},"axis":null},
   "y":{"field":"r","type":"quantitative","scale":{"domain":[-1.6667,68.1111],"reverse":true,"nice":false,"zero":false},"axis":null},
   "detail":{"field":"id"},
   "order":{"field":"k"}}},
 {"data": {"name":"rows"}, "transform":[{"filter":"datum.k=='t'&&datum.c==0"}],
  "mark": {"type":"rect","fill":"#6b6bff","stroke":"#0000ff","strokeWidth":1,"yOffset":-4.5,"y2Offset":4.5},
  "encoding": {"x":{"field":"s","type":"temporal","scale":{"type":"utc","domain":[{"year":2015,"month":2,"date":26,"utc":true},{"year":2015,"month":7,"date":20,"utc":true}],"range":[464.5,1672],"nice":false},"axis":null},
   "x2":{"field":"e"},
   "y":{"field":"r","type":"quantitative","scale":{"domain":[-1.6667,68.1111],"reverse":true,"nice":false,"zero":false},"axis":null},
   "y2":{"field":"r"}}},
 {"data": {"name":"rows"}, "transform":[{"filter":"datum.k=='t'&&datum.c==1"}],
  "mark": {"type":"rect","fill":"#ff6b6b","stroke":"#ff0000","strokeWidth":1,"yOffset":-4.5,"y2Offset":4.5},
  "encoding": {"x":{"field":"s","type":"temporal","scale":{"type":"utc","domain":[{"year":2015,"month":2,"date":26,"utc":true},{"year":2015,"month":7,"date":20,"utc":true}],"range":[464.5,1672],"nice":false},"axis":null},
   "x2":{"field":"e"},
   "y":{"field":"r","type":"quantitative","scale":{"domain":[-1.6667,68.1111],"reverse":true,"nice":false,"zero":false},"axis":null},
   "y2":{"field":"r"}}},
 {"data": {"name":"rows"}, "transform":[{"filter":"datum.k=='s'"}],
  "mark": {"type":"rect","yOffset":-6,"y2Offset":-1},
  "encoding": {"x":{"field":"s","type":"temporal","scale":{"type":"utc","domain":[{"year":2015,"month":2,"date":26,"utc":true},{"year":2015,"month":7,"date":20,"utc":true}],"range":[464.5,1672],"nice":false},"axis":null},
   "x2":{"field":"e"},
   "y":{"field":"r","type":"quantitative","scale":{"domain":[-1.6667,68.1111],"reverse":true,"nice":false,"zero":false},"axis":null},
   "y2":{"field":"r"},
   "fill":{"field":"c","type":"nominal","scale":{"domain":[0,1],"range":["#0000ff","#ff0000"]},"legend":null}}},
 {"data": {"name":"rows"}, "transform":[{"filter":"datum.k=='s'"}],
  "mark": {"type":"point","shape":"M-1,-0.4545L1,-0.4545L1,0.4545L0,1.5454L-1,0.4545Z","size":121,"filled":true,"opacity":1,"strokeWidth":0,"yOffset":-3.5},
  "encoding": {"x":{"field":"s","type":"temporal","scale":{"type":"utc","domain":[{"year":2015,"month":2,"date":26,"utc":true},{"year":2015,"month":7,"date":20,"utc":true}],"range":[464.5,1672],"nice":false},"axis":null},
   "y":{"field":"r","type":"quantitative","scale":{"domain":[-1.6667,68.1111],"reverse":true,"nice":false,"zero":false},"axis":null},
   "fill":{"field":"c","type":"nominal","scale":{"domain":[0,1],"range":["#0000ff","#ff0000"]},"legend":null}}},
 {"data": {"name":"rows"}, "transform":[{"filter":"datum.k=='s'"}],
  "mark": {"type":"point","shape":"M-1,-0.4545L1,-0.4545L1,0.4545L0,1.5454L-1,0.4545Z","size":121,"filled":true,"opacity":1,"strokeWidth":0,"yOffset":-3.5},
  "encoding": {"x":{"field":"e","type":"temporal","scale":{"type":"utc","domain":[{"year":2015,"month":2,"date":26,"utc":true},{"year":2015,"month":7,"date":20,"utc":true}],"range":[464.5,1672],"nice":false},"axis":null},
   "y":{"field":"r","type":"quantitative","scale":{"domain":[-1.6667,68.1111],"reverse":true,"nice":false,"zero":false},"axis":null},
   "fill":{"field":"c","type":"nominal","scale":{"domain":[0,1],"range":["#0000ff","#ff0000"]},"legend":null}}},
 {"data": {"name":"rows"}, "transform":[{"filter":"datum.k=='m'&&datum.c==0"}],
  "mark": {"type":"point","shape":"diamond","size":100,"filled":true,"opacity":1,"fill":"#6b6bff","stroke":"#0000ff","strokeWidth":1},
  "encoding": {"x":{"field":"s","type":"temporal","scale":{"type":"utc","domain":[{"year":2015,"month":2,"date":26,"utc":true},{"year":2015,"month":7,"date":20,"utc":true}],"range":[464.5,1672],"nice":false},"axis":null},
   "y":{"field":"r","type":"quantitative","scale":{"domain":[-1.6667,68.1111],"reverse":true,"nice":false,"zero":false},"axis":null}}},
 {"data": {"name":"rows"}, "transform":[{"filter":"datum.k=='m'&&datum.c==1"}],
  "mark": {"type":"point","shape":"diamond","size":100,"filled":true,"opacity":1,"fill":"#ff6b6b","stroke":"#ff0000","strokeWidth":1},
  "encoding": {"x":{"field":"s","type":"temporal","scale":{"type":"utc","domain":[{"year":2015,"month":2,"date":26,"utc":true},{"year":2015,"month":7,"date":20,"utc":true}],"range":[464.5,1672],"nice":false},"axis":null},
   "y":{"field":"r","type":"quantitative","scale":{"domain":[-1.6667,68.1111],"reverse":true,"nice":false,"zero":false},"axis":null}}},
 {"data": {"name":"arrows"},
  "mark": {"type":"point","shape":"M-1,-1.4L1,-1.4L0,0Z","size":49,"filled":true,"opacity":1,"color":"#0000ff","strokeWidth":0},
  "encoding": {"x":{"field":"t","type":"temporal","scale":{"type":"utc","domain":[{"year":2015,"month":2,"date":26,"utc":true},{"year":2015,"month":7,"date":20,"utc":true}],"range":[464.5,1672],"nice":false},"axis":null},
   "y":{"field":"r","type":"quantitative","scale":{"domain":[-1.6667,68.1111],"reverse":true,"nice":false,"zero":false},"axis":null}}},
 {"data": {"name":"rows"}, "transform":[{"filter":"datum.st=='T'||datum.st=='K'"}],
  "mark": {"type":"text","align":"left","baseline":"middle","dx":8.5,"font":"Liberation Serif, Noto Sans CJK SC","fontSize":16,"fontWeight":"bold"},
  "encoding": {"x":{"field":"e","type":"temporal","scale":{"type":"utc","domain":[{"year":2015,"month":2,"date":26,"utc":true},{"year":2015,"month":7,"date":20,"utc":true}],"range":[464.5,1672],"nice":false},"axis":null},
   "y":{"field":"r","type":"quantitative","scale":{"domain":[-1.6667,68.1111],"reverse":true,"nice":false,"zero":false},"axis":null},
   "text":{"field":"n"},
   "color":{"field":"st","type":"nominal","scale":{"domain":["T","K","R","S"],"range":["#008080","#000000","#ff0000","#000000"]},"legend":null}}},
 {"data": {"name":"rows"}, "transform":[{"filter":"datum.st=='R'||datum.st=='S'"}],
  "mark": {"type":"text","align":"left","baseline":"middle","dx":8.5,"font":"Noto Sans CJK SC","fontSize":12},
  "encoding": {"x":{"field":"e","type":"temporal","scale":{"type":"utc","domain":[{"year":2015,"month":2,"date":26,"utc":true},{"year":2015,"month":7,"date":20,"utc":true}],"range":[464.5,1672],"nice":false},"axis":null},
   "y":{"field":"r","type":"quantitative","scale":{"domain":[-1.6667,68.1111],"reverse":true,"nice":false,"zero":false},"axis":null},
   "text":{"field":"n"},
   "color":{"field":"st","type":"nominal","scale":{"domain":["T","K","R","S"],"range":["#008080","#000000","#ff0000","#000000"]},"legend":null}}}
]},
{"layer": [
 {"data": {"name":"legend"}, "transform":[{"filter":"datum.cc=='crit'"}],
  "mark": {"type":"text","align":"left","baseline":"middle","font":"Noto Sans CJK SC","fontSize":12,"color":"#ff0000"},
  "encoding": {"x":{"field":"e","type":"nominal","scale":{"type":"point","domain":["关键任务","一般任务","关键摘要","一般摘要","关键里程碑","一般里程碑"],"range":[79,589],"padding":0},"axis":null},
   "y":{"datum":60.64,"type":"quantitative","scale":{"domain":[-1.6667,68.1111],"reverse":true,"nice":false,"zero":false},"axis":null},
   "text":{"field":"e"}}},
 {"data": {"name":"legend"}, "transform":[{"filter":"datum.cc=='norm'"}],
  "mark": {"type":"text","align":"left","baseline":"middle","font":"Noto Sans CJK SC","fontSize":12,"color":"#000000"},
  "encoding": {"x":{"field":"e","type":"nominal","scale":{"type":"point","domain":["关键任务","一般任务","关键摘要","一般摘要","关键里程碑","一般里程碑"],"range":[79,589],"padding":0},"axis":null},
   "y":{"datum":60.64,"type":"quantitative","scale":{"domain":[-1.6667,68.1111],"reverse":true,"nice":false,"zero":false},"axis":null},
   "text":{"field":"e"}}},
 {"data": {"name":"legend"}, "transform":[{"filter":"datum.e=='关键任务'"}],
  "mark": {"type":"point","shape":"M-1,-0.45L1,-0.45L1,0.45L-1,0.45Z","size":841,"filled":true,"opacity":1,"fill":"#ff6b6b","stroke":"#ff0000","strokeWidth":1,"xOffset":74},
  "encoding": {"x":{"field":"e","type":"nominal","scale":{"type":"point","domain":["关键任务","一般任务","关键摘要","一般摘要","关键里程碑","一般里程碑"],"range":[79,589],"padding":0},"axis":null},
   "y":{"datum":60.64,"type":"quantitative","scale":{"domain":[-1.6667,68.1111],"reverse":true,"nice":false,"zero":false},"axis":null}}},
 {"data": {"name":"legend"}, "transform":[{"filter":"datum.e=='一般任务'"}],
  "mark": {"type":"point","shape":"M-1,-0.45L1,-0.45L1,0.45L-1,0.45Z","size":841,"filled":true,"opacity":1,"fill":"#6b6bff","stroke":"#0000ff","strokeWidth":1,"xOffset":74},
  "encoding": {"x":{"field":"e","type":"nominal","scale":{"type":"point","domain":["关键任务","一般任务","关键摘要","一般摘要","关键里程碑","一般里程碑"],"range":[79,589],"padding":0},"axis":null},
   "y":{"datum":60.64,"type":"quantitative","scale":{"domain":[-1.6667,68.1111],"reverse":true,"nice":false,"zero":false},"axis":null}}},
 {"data": {"name":"legend"}, "transform":[{"filter":"datum.e=='关键摘要'"}],
  "mark": {"type":"point","shape":"M-1,-0.41L1,-0.41L1,-0.17L0.72,0.41L0.44,-0.17L-0.44,-0.17L-0.72,0.41L-1,-0.17Z","size":1849,"filled":true,"opacity":1,"fill":"#ff0000","strokeWidth":0,"xOffset":75},
  "encoding": {"x":{"field":"e","type":"nominal","scale":{"type":"point","domain":["关键任务","一般任务","关键摘要","一般摘要","关键里程碑","一般里程碑"],"range":[79,589],"padding":0},"axis":null},
   "y":{"datum":60.64,"type":"quantitative","scale":{"domain":[-1.6667,68.1111],"reverse":true,"nice":false,"zero":false},"axis":null}}},
 {"data": {"name":"legend"}, "transform":[{"filter":"datum.e=='一般摘要'"}],
  "mark": {"type":"point","shape":"M-1,-0.41L1,-0.41L1,-0.17L0.72,0.41L0.44,-0.17L-0.44,-0.17L-0.72,0.41L-1,-0.17Z","size":1849,"filled":true,"opacity":1,"fill":"#0000ff","strokeWidth":0,"xOffset":75},
  "encoding": {"x":{"field":"e","type":"nominal","scale":{"type":"point","domain":["关键任务","一般任务","关键摘要","一般摘要","关键里程碑","一般里程碑"],"range":[79,589],"padding":0},"axis":null},
   "y":{"datum":60.64,"type":"quantitative","scale":{"domain":[-1.6667,68.1111],"reverse":true,"nice":false,"zero":false},"axis":null}}},
 {"data": {"name":"legend"}, "transform":[{"filter":"datum.e=='关键里程碑'"}],
  "mark": {"type":"point","shape":"diamond","size":110,"filled":true,"opacity":1,"fill":"#ff6b6b","stroke":"#ff0000","strokeWidth":1,"xOffset":74},
  "encoding": {"x":{"field":"e","type":"nominal","scale":{"type":"point","domain":["关键任务","一般任务","关键摘要","一般摘要","关键里程碑","一般里程碑"],"range":[79,589],"padding":0},"axis":null},
   "y":{"datum":60.64,"type":"quantitative","scale":{"domain":[-1.6667,68.1111],"reverse":true,"nice":false,"zero":false},"axis":null}}},
 {"data": {"name":"legend"}, "transform":[{"filter":"datum.e=='一般里程碑'"}],
  "mark": {"type":"point","shape":"diamond","size":110,"filled":true,"opacity":1,"fill":"#6b6bff","stroke":"#0000ff","strokeWidth":1,"xOffset":72},
  "encoding": {"x":{"field":"e","type":"nominal","scale":{"type":"point","domain":["关键任务","一般任务","关键摘要","一般摘要","关键里程碑","一般里程碑"],"range":[79,589],"padding":0},"axis":null},
   "y":{"datum":60.64,"type":"quantitative","scale":{"domain":[-1.6667,68.1111],"reverse":true,"nice":false,"zero":false},"axis":null}}}
]},
{"layer": [
 {"data": {"name":"infol"},
  "mark": {"type":"rule","color":"#000000","strokeWidth":1,"yOffset":2,"y2Offset":2},
  "encoding": {"x":{"field":"x","type":"quantitative","scale":{"type":"linear","domain":[0,1,2,3,4],"range":[1377,1437,1527,1587,1674],"nice":false,"zero":false},"axis":null},
   "x2":{"field":"x2"},
   "y":{"field":"r","type":"quantitative","scale":{"domain":[-1.6667,68.1111],"reverse":true,"nice":false,"zero":false},"axis":null},
   "y2":{"field":"r2"}}},
 {"data": {"name":"info"},
  "mark": {"type":"text","align":"center","baseline":"middle","yOffset":2,"font":"Liberation Sans, Noto Sans CJK SC","fontSize":12,"color":"#000000"},
  "encoding": {"x":{"field":"x","type":"quantitative","scale":{"type":"linear","domain":[0,1,2,3,4],"range":[1377,1437,1527,1587,1674],"nice":false,"zero":false},"axis":null},
   "y":{"field":"r","type":"quantitative","scale":{"domain":[-1.6667,68.1111],"reverse":true,"nice":false,"zero":false},"axis":null},
   "text":{"field":"t"}}}
]},
{"layer": [
 {"data": {"values":[{}]},
  "mark": {"type":"rule","color":"#808080","strokeWidth":1},
  "encoding": {"x":{"datum":0,"type":"quantitative","scale":{"type":"linear","domain":[0,1],"range":[25,1676.3],"nice":false,"zero":false},"axis":null},
   "x2":{"datum":1},
   "y":{"datum":0.5,"type":"quantitative","scale":{"domain":[-1.6667,68.1111],"reverse":true,"nice":false,"zero":false},"axis":null}}},
 {"data": {"values":[{}]},
  "mark": {"type":"rule","color":"#222222","strokeWidth":2},
  "encoding": {"x":{"datum":0,"type":"quantitative","scale":{"type":"linear","domain":[0,1],"range":[25,1676.3],"nice":false,"zero":false},"axis":null},
   "x2":{"datum":1},
   "y":{"datum":59.5,"type":"quantitative","scale":{"domain":[-1.6667,68.1111],"reverse":true,"nice":false,"zero":false},"axis":null}}},
 {"data": {"values":[{}]},
  "mark": {"type":"rect","filled":false,"color":"#000000","strokeWidth":4.3},
  "encoding": {"x":{"datum":0,"type":"quantitative","scale":{"type":"linear","domain":[0,1],"range":[25,1676.3],"nice":false,"zero":false},"axis":null},
   "x2":{"datum":1},
   "y":{"datum":-1.611,"type":"quantitative","scale":{"domain":[-1.6667,68.1111],"reverse":true,"nice":false,"zero":false},"axis":null},
   "y2":{"datum":66.67}}}
]}
],
"resolve": {"scale": {"x": "independent", "color": "independent", "fill": "independent"}}
}
